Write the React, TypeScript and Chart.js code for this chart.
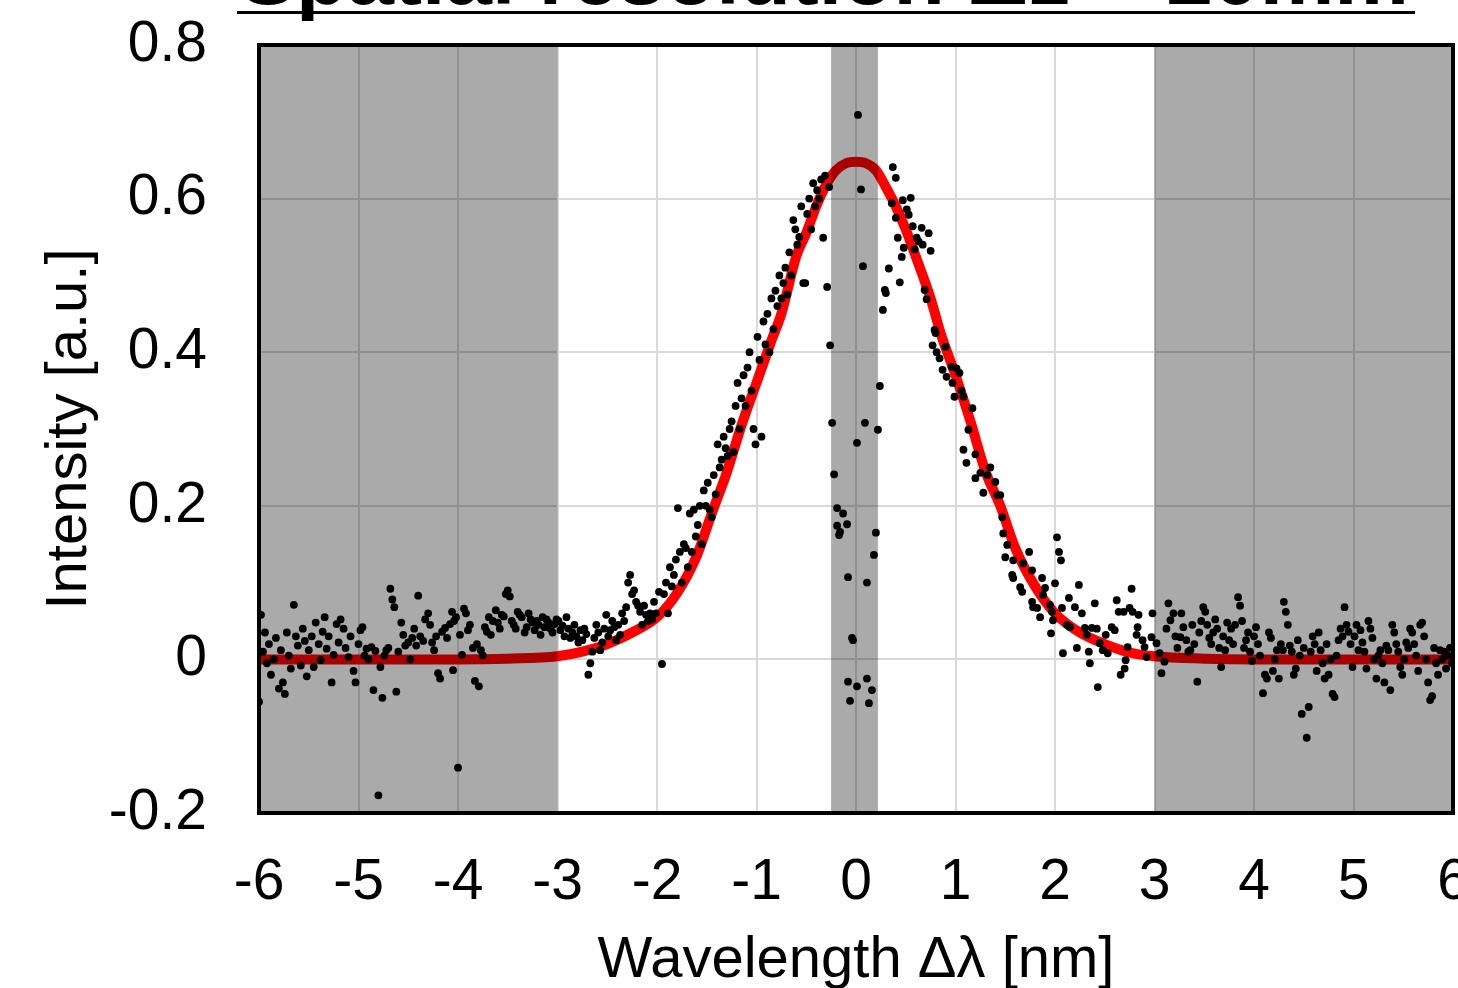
import React, { useEffect, useRef } from 'react';
import { Chart, registerables } from 'chart.js';

Chart.register(...registerables);

const FONT = '"Liberation Sans", Arial, Helvetica, sans-serif';

const titleText = 'Spatial resolution Δz ~ 20mm';
const xAxisTitle = 'Wavelength Δλ [nm]';
const yAxisTitle = 'Intensity [a.u.]';

const xTickValues = [-6, -5, -4, -3, -2, -1, 0, 1, 2, 3, 4, 5, 6];
const yTickLabels = ['-0.2', '0', '0.2', '0.4', '0.6', '0.8'];

// shaded wavelength ranges (nm)
const shadedRanges: [number, number][] = [
  [-6, -3],
  [-0.25, 0.22],
  [3, 6],
];

// fitted curve
const fitX = [-6, -4, -3.5, -3, -2.75, -2.5, -2.25, -2, -1.8, -1.6, -1.45, -1.3, -1.15, -1, -0.85, -0.75, -0.6, -0.5, -0.4, -0.3, -0.2, -0.1, 0, 0.1, 0.2, 0.3, 0.4, 0.5, 0.6, 0.75, 0.85, 1, 1.15, 1.3, 1.45, 1.6, 1.8, 2, 2.25, 2.5, 2.75, 3, 3.5, 4, 6];
const fitY = [0, 0, 0.001, 0.004, 0.01, 0.02, 0.035, 0.055, 0.086, 0.135, 0.19, 0.243, 0.305, 0.36, 0.415, 0.45, 0.525, 0.555, 0.59, 0.618, 0.637, 0.646, 0.648, 0.646, 0.637, 0.615, 0.59, 0.56, 0.525, 0.47, 0.425, 0.37, 0.31, 0.245, 0.2, 0.145, 0.095, 0.06, 0.035, 0.02, 0.009, 0.004, 0.001, 0, 0];

// measured points, left background region
const leftTailPoints: [number, number][] = [
  [-6.0, -0.055], [-5.98, 0.058], [-5.96, 0.01], [-5.94, 0.035], [-5.92, -0.005], [-5.9, 0.02], [-5.88, -0.02], [-5.85, 0.0], [-5.83, 0.028], [-5.8, -0.038],
  [-5.78, 0.012], [-5.76, -0.03], [-5.74, -0.045], [-5.72, 0.035], [-5.7, 0.005], [-5.68, -0.012], [-5.65, 0.071], [-5.63, 0.03], [-5.61, 0.018], [-5.58, -0.008],
  [-5.56, 0.04], [-5.54, 0.024], [-5.52, -0.022], [-5.5, 0.012], [-5.47, 0.03], [-5.45, -0.01], [-5.43, 0.048], [-5.4, 0.02], [-5.38, -0.001], [-5.36, 0.036],
  [-5.34, 0.055], [-5.32, 0.014], [-5.3, 0.03], [-5.27, -0.03], [-5.25, 0.006], [-5.22, 0.046], [-5.2, 0.022], [-5.18, 0.052], [-5.15, 0.04], [-5.13, 0.015],
  [-5.1, 0.003], [-5.08, 0.03], [-5.05, -0.015], [-5.03, -0.03], [-5.0, 0.02], [-4.98, 0.038], [-4.96, 0.042], [-4.94, 0.005], [-4.92, 0.014], [-4.9, 0.0],
  [-4.87, 0.016], [-4.85, -0.04], [-4.83, 0.011], [-4.8, -0.177], [-4.78, -0.01], [-4.76, -0.05], [-4.74, 0.005], [-4.72, 0.012], [-4.7, 0.015], [-4.68, 0.092],
  [-4.66, 0.078], [-4.64, 0.068], [-4.62, -0.042], [-4.6, 0.01], [-4.57, 0.048], [-4.55, 0.032], [-4.53, 0.018], [-4.5, 0.022], [-4.48, 0.0], [-4.46, 0.028],
  [-4.44, 0.04], [-4.42, 0.018], [-4.4, 0.083], [-4.38, 0.03], [-4.35, 0.024], [-4.33, 0.052], [-4.3, 0.06], [-4.28, 0.045], [-4.26, 0.022], [-4.24, 0.012],
  [-4.22, 0.03], [-4.2, -0.018], [-4.18, -0.025], [-4.16, 0.036], [-4.13, 0.041], [-4.11, 0.028], [-4.08, 0.046], [-4.06, 0.062], [-4.04, 0.05], [-4.05, -0.014],
  [-4.02, 0.055], [-4.0, -0.141], [-3.98, 0.032], [-3.96, 0.006], [-3.94, 0.066], [-3.92, 0.06], [-3.9, 0.038], [-3.88, 0.045], [-3.85, 0.015], [-3.83, -0.028],
  [-3.81, 0.02], [-3.79, -0.035], [-3.77, 0.012], [-3.75, 0.005], [-3.73, 0.042], [-3.71, 0.036], [-3.69, 0.055], [-3.67, 0.032], [-3.65, 0.05], [-3.62, 0.064],
  [-3.6, 0.048], [-3.58, 0.04], [-3.56, 0.058], [-3.54, 0.056], [-3.52, 0.085], [-3.5, 0.09], [-3.48, 0.082], [-3.46, 0.05], [-3.44, 0.045], [-3.42, 0.04],
  [-3.4, 0.062], [-3.38, 0.058], [-3.36, 0.055], [-3.33, 0.035], [-3.31, 0.042], [-3.29, 0.06], [-3.27, 0.052], [-3.25, 0.048], [-3.23, 0.038], [-3.21, 0.05],
  [-3.19, 0.045], [-3.17, 0.032], [-3.15, 0.055], [-3.13, 0.042], [-3.11, 0.052], [-3.09, 0.048], [-3.07, 0.04], [-3.05, 0.035], [-3.03, 0.046], [-3.01, 0.052],
];

// measured points, rising flank
const risePoints: [number, number][] = [
  [-2.99, 0.05], [-2.97, 0.038], [-2.95, 0.044], [-2.93, 0.03], [-2.91, 0.055], [-2.89, 0.04], [-2.87, 0.028], [-2.85, 0.035], [-2.83, 0.045], [-2.81, 0.03],
  [-2.79, 0.022], [-2.77, 0.038], [-2.75, 0.025], [-2.73, 0.04], [-2.71, 0.033], [-2.69, -0.02], [-2.67, -0.005], [-2.65, 0.01], [-2.63, 0.028], [-2.61, 0.045],
  [-2.59, 0.035], [-2.57, 0.012], [-2.55, 0.022], [-2.53, 0.04], [-2.51, 0.058], [-2.49, 0.03], [-2.47, 0.038], [-2.45, 0.05], [-2.43, 0.042], [-2.41, 0.025],
  [-2.39, 0.045], [-2.37, 0.032], [-2.35, 0.06], [-2.33, 0.05], [-2.31, 0.068], [-2.29, 0.1], [-2.27, 0.11], [-2.25, 0.085], [-2.23, 0.09], [-2.21, 0.075],
  [-2.19, 0.07], [-2.17, 0.062], [-2.15, 0.045], [-2.13, 0.07], [-2.11, 0.058], [-2.09, 0.05], [-2.07, 0.06], [-2.05, 0.052], [-2.03, 0.075], [-2.01, 0.06],
  [-1.98, 0.088], [-1.95, -0.006], [-1.93, 0.085], [-1.91, 0.1], [-1.89, 0.06], [-1.87, 0.12], [-1.85, 0.095], [-1.83, 0.11], [-1.81, 0.13], [-1.79, 0.197],
  [-1.77, 0.14], [-1.75, 0.1], [-1.73, 0.15], [-1.71, 0.145], [-1.69, 0.12], [-1.67, 0.19], [-1.65, 0.14], [-1.63, 0.195], [-1.61, 0.16], [-1.59, 0.175],
  [-1.57, 0.2], [-1.55, 0.15], [-1.53, 0.22], [-1.51, 0.2], [-1.49, 0.23], [-1.47, 0.195], [-1.45, 0.185], [-1.43, 0.24], [-1.41, 0.215], [-1.39, 0.28],
  [-1.37, 0.25], [-1.35, 0.26], [-1.33, 0.29], [-1.31, 0.275], [-1.29, 0.265], [-1.27, 0.3], [-1.25, 0.31], [-1.23, 0.27], [-1.21, 0.33], [-1.19, 0.36],
  [-1.17, 0.3], [-1.15, 0.34], [-1.13, 0.37], [-1.11, 0.33], [-1.09, 0.38], [-1.07, 0.4], [-1.05, 0.35], [-1.03, 0.3], [-1.01, 0.28], [-0.99, 0.42],
  [-0.97, 0.39], [-0.95, 0.29], [-0.93, 0.44], [-0.91, 0.41], [-0.89, 0.45], [-0.87, 0.4], [-0.85, 0.47], [-0.83, 0.43], [-0.81, 0.48], [-0.79, 0.46],
  [-0.77, 0.5], [-0.75, 0.47], [-0.73, 0.49], [-0.71, 0.51], [-0.69, 0.475], [-0.67, 0.53], [-0.65, 0.5], [-0.63, 0.572], [-0.61, 0.56], [-0.59, 0.54],
  [-0.57, 0.55], [-0.55, 0.59], [-0.53, 0.49], [-0.51, 0.49], [-0.49, 0.58], [-0.47, 0.6], [-0.45, 0.56], [-0.43, 0.62], [-0.41, 0.59], [-0.39, 0.611],
  [-0.37, 0.6], [-0.35, 0.625], [-0.33, 0.549], [-0.31, 0.63], [-0.29, 0.485], [-0.27, 0.615],
];

// measured points inside the central band
const centerPoints: [number, number][] = [
  [-0.26, 0.409], [-0.24, 0.308], [-0.22, 0.241], [-0.19, 0.197], [-0.13, 0.19], [-0.19, 0.174], [-0.09, 0.176], [-0.16, 0.166], [-0.17, 0.162], [-0.08, 0.107],
  [-0.04, 0.028], [-0.03, 0.025], [-0.08, -0.029], [-0.06, -0.054], [0.01, -0.035], [0.11, -0.025], [0.16, -0.04], [0.13, -0.057], [0.01, 0.282], [0.09, 0.308],
  [0.2, 0.165], [0.18, 0.136], [0.11, 0.1], [0.02, 0.709], [0.05, 0.612], [0.07, 0.512], [0.24, 0.356],
];

// measured points, falling flank
const fallPoints: [number, number][] = [
  [0.22, 0.299], [0.27, 0.455], [0.29, 0.481], [0.3, 0.477], [0.33, 0.509], [0.36, 0.594], [0.37, 0.641], [0.4, 0.627], [0.4, 0.575], [0.42, 0.549],
  [0.44, 0.491], [0.46, 0.524], [0.47, 0.598], [0.48, 0.536], [0.51, 0.586], [0.53, 0.579], [0.55, 0.601], [0.57, 0.564], [0.59, 0.534], [0.61, 0.549],
  [0.63, 0.544], [0.66, 0.562], [0.67, 0.54], [0.69, 0.481], [0.71, 0.469], [0.73, 0.555], [0.75, 0.532], [0.77, 0.409], [0.79, 0.429], [0.8, 0.425],
  [0.81, 0.4], [0.84, 0.392], [0.87, 0.377], [0.9, 0.407], [0.91, 0.368], [0.96, 0.381], [0.97, 0.36], [0.99, 0.342], [1.01, 0.379], [1.04, 0.373],
  [1.06, 0.35], [1.08, 0.342], [1.08, 0.273], [1.11, 0.256], [1.13, 0.299], [1.17, 0.327], [1.2, 0.267], [1.2, 0.236], [1.25, 0.243], [1.28, 0.217],
  [1.32, 0.24], [1.35, 0.25], [1.4, 0.231], [1.42, 0.214], [1.45, 0.214], [1.47, 0.185], [1.48, 0.164], [1.5, 0.133], [1.52, 0.149], [1.57, 0.11],
  [1.58, 0.129], [1.58, 0.106], [1.65, 0.094], [1.67, 0.088], [1.68, 0.125], [1.74, 0.14], [1.77, 0.116], [1.77, 0.075], [1.78, 0.068], [1.82, 0.067],
  [1.85, 0.055], [1.87, 0.106], [1.88, 0.084], [1.9, 0.093], [1.95, 0.071], [1.96, 0.034], [1.97, 0.062], [1.98, 0.051], [2.0, 0.099], [2.02, 0.159],
  [2.04, 0.14], [2.06, 0.129], [2.07, 0.067], [2.08, 0.008], [2.12, 0.045], [2.14, 0.08], [2.15, 0.042], [2.2, 0.068], [2.22, 0.015], [2.24, 0.097],
  [2.27, 0.06], [2.3, 0.041], [2.32, 0.032], [2.34, 0.01], [2.35, -0.005], [2.37, 0.041], [2.4, 0.073], [2.42, 0.04], [2.43, -0.036], [2.45, 0.021],
  [2.48, 0.012], [2.51, 0.032], [2.53, 0.008], [2.57, 0.042], [2.6, 0.038], [2.62, 0.077], [2.64, 0.062], [2.66, -0.02], [2.69, 0.062], [2.7, -0.012],
  [2.71, -0.001], [2.73, 0.016], [2.75, 0.067], [2.77, 0.092], [2.78, 0.062], [2.82, 0.032], [2.83, 0.042], [2.84, 0.058], [2.88, 0.025], [2.9, 0.016],
  [2.92, 0.003], [2.97, 0.029], [2.98, 0.06], [3.02, 0.021], [3.05, 0.008], [3.07, -0.018], [3.1, -0.003],
];

// measured points, right background region
const rightTailPoints: [number, number][] = [
  [3.12, 0.04], [3.14, 0.073], [3.16, 0.051], [3.19, 0.06], [3.21, 0.03], [3.23, 0.015], [3.26, 0.029], [3.27, 0.06], [3.29, 0.042], [3.32, 0.025],
  [3.34, 0.01], [3.36, 0.012], [3.38, 0.045], [3.4, 0.02], [3.43, -0.029], [3.45, 0.035], [3.47, 0.05], [3.49, 0.068], [3.51, 0.062], [3.53, 0.045],
  [3.55, 0.028], [3.57, 0.02], [3.59, 0.035], [3.61, 0.052], [3.63, 0.04], [3.65, 0.015], [3.67, -0.01], [3.69, 0.03], [3.71, 0.012], [3.73, 0.048],
  [3.75, 0.025], [3.77, 0.04], [3.79, 0.02], [3.81, 0.045], [3.84, 0.081], [3.86, 0.07], [3.88, 0.05], [3.9, 0.015], [3.92, 0.025], [3.94, 0.035],
  [3.96, 0.01], [3.98, -0.002], [4.0, 0.03], [4.02, 0.042], [4.04, 0.02], [4.06, 0.005], [4.09, -0.044], [4.11, -0.02], [4.13, -0.025], [4.15, 0.035],
  [4.17, 0.028], [4.19, -0.015], [4.21, 0.0], [4.23, 0.012], [4.25, -0.025], [4.27, 0.02], [4.29, 0.012], [4.3, 0.075], [4.32, 0.062], [4.34, 0.045],
  [4.36, 0.018], [4.38, 0.01], [4.4, -0.02], [4.42, -0.012], [4.44, 0.025], [4.46, 0.005], [4.48, -0.071], [4.5, 0.015], [4.53, -0.102], [4.55, -0.062],
  [4.57, 0.01], [4.59, 0.03], [4.61, 0.02], [4.63, -0.015], [4.65, 0.035], [4.67, 0.012], [4.69, -0.005], [4.71, -0.025], [4.73, 0.02], [4.75, -0.02],
  [4.77, 0.0], [4.79, -0.045], [4.81, -0.049], [4.83, 0.005], [4.85, 0.025], [4.87, 0.04], [4.89, 0.03], [4.91, 0.068], [4.93, 0.045], [4.95, 0.036],
  [4.97, 0.02], [4.99, -0.01], [5.01, 0.03], [5.03, 0.045], [5.05, 0.012], [5.07, 0.038], [5.09, 0.022], [5.11, 0.01], [5.13, -0.012], [5.15, 0.05],
  [5.17, 0.04], [5.19, 0.028], [5.21, 0.0], [5.23, -0.025], [5.25, 0.005], [5.27, 0.012], [5.29, -0.005], [5.31, -0.03], [5.33, 0.018], [5.35, 0.012],
  [5.37, -0.04], [5.39, 0.045], [5.41, 0.035], [5.43, 0.02], [5.45, 0.01], [5.47, -0.01], [5.49, -0.02], [5.51, 0.0], [5.53, 0.022], [5.55, 0.015],
  [5.57, 0.04], [5.59, 0.035], [5.61, 0.02], [5.63, 0.005], [5.65, -0.015], [5.67, 0.045], [5.69, 0.048], [5.71, 0.03], [5.73, 0.0], [5.75, -0.03],
  [5.77, -0.053], [5.79, -0.048], [5.81, 0.015], [5.83, -0.005], [5.85, -0.02], [5.87, 0.012], [5.89, 0.0], [5.91, 0.01], [5.93, -0.012], [5.95, 0.005],
  [5.97, 0.015], [5.99, -0.005],
];

export default function App() {
  const canvasRef = useRef<HTMLCanvasElement | null>(null);

  useEffect(() => {
    const canvas = canvasRef.current;
    if (!canvas) return;

    const measured = [...leftTailPoints, ...risePoints, ...centerPoints, ...fallPoints, ...rightTailPoints].map(([x, y]) => ({ x, y }));
    const fit = fitX.map((x, i) => ({ x, y: fitY[i] }));

    const overlayPlugin = {
      id: 'bandsAndFrame',
      afterDatasetsDraw(chart: any) {
        const { ctx, chartArea, scales } = chart;
        const xs = scales.x;
        ctx.save();
        ctx.fillStyle = 'rgba(0,0,0,0.335)';
        for (const [a, b] of shadedRanges) {
          const x1 = xs.getPixelForValue(a);
          const x2 = xs.getPixelForValue(b);
          ctx.fillRect(x1, chartArea.top, x2 - x1, chartArea.bottom - chartArea.top);
        }
        ctx.lineWidth = 4;
        ctx.strokeStyle = '#000';
        ctx.strokeRect(chartArea.left, chartArea.top, chartArea.right - chartArea.left, chartArea.bottom - chartArea.top);
        ctx.restore();
      },
    };

    const zeroPadding = (scale: any) => {
      scale.paddingTop = 0;
      scale.paddingBottom = 0;
      scale.paddingLeft = 0;
      scale.paddingRight = 0;
    };

    const chart = new Chart(canvas, {
      type: 'scatter',
      data: {
        datasets: [
          {
            label: 'measured',
            data: measured,
            pointRadius: 3.9,
            pointBackgroundColor: '#000',
            pointBorderWidth: 0,
            showLine: false,
          },
          {
            label: 'fit',
            data: fit,
            showLine: true,
            pointRadius: 0,
            borderColor: '#ff0000',
            borderWidth: 10,
            cubicInterpolationMode: 'monotone',
            borderCapStyle: 'round',
            borderJoinStyle: 'round',
          },
        ],
      },
      options: {
        responsive: false,
        animation: false,
        devicePixelRatio: 1,
        layout: { padding: { top: 45, right: 27, bottom: 0, left: 0 } },
        plugins: { legend: { display: false }, tooltip: { enabled: false } },
        scales: {
          x: {
            type: 'linear',
            min: -6,
            max: 6,
            afterBuildTicks: (scale: any) => {
              scale.ticks = xTickValues.map((v) => ({ value: v }));
            },
            afterFit: (scale: any) => {
              scale.height = 187;
              zeroPadding(scale);
            },
            grid: { color: '#d9d9d9', lineWidth: 2, drawTicks: false },
            border: { display: false },
            ticks: {
              autoSkip: false,
              maxRotation: 0,
              padding: 36,
              color: '#000',
              font: { family: FONT, size: 57 },
              callback: (v: any) => String(v),
            },
            title: {
              display: true,
              text: xAxisTitle,
              color: '#000',
              font: { family: FONT, size: 58 },
              padding: { top: 0, bottom: 4 },
            },
          },
          y: {
            type: 'linear',
            min: -0.2,
            max: 0.8,
            afterBuildTicks: (scale: any) => {
              scale.ticks = yTickLabels.map((t) => ({ value: parseFloat(t) }));
            },
            afterFit: (scale: any) => {
              scale.width = 259;
              zeroPadding(scale);
            },
            grid: { color: '#d9d9d9', lineWidth: 2, drawTicks: false },
            border: { display: false },
            ticks: {
              padding: 52,
              color: '#000',
              font: { family: FONT, size: 57 },
              callback: (_v: any, i: number) => yTickLabels[i],
            },
            title: {
              display: true,
              text: yAxisTitle,
              color: '#000',
              font: { family: FONT, size: 58 },
              padding: { top: 35, bottom: 0 },
            },
          },
        },
      },
      plugins: [overlayPlugin],
    } as any);

    return () => chart.destroy();
  }, []);

  return (
    <div style={{ position: 'fixed', left: 0, top: 0, width: 1458, height: 988, overflow: 'hidden', background: '#fff' }}>
      <canvas ref={canvasRef} width={1480} height={1000} style={{ position: 'absolute', left: 0, top: 0, width: 1480, height: 1000 }} />
      <div
        style={{
          position: 'absolute',
          left: 240,
          top: -67,
          fontFamily: FONT,
          fontWeight: 'bold',
          fontSize: 84,
          lineHeight: '85px',
          whiteSpace: 'nowrap',
          color: '#000',
        }}
      >
        {titleText}
      </div>
      <div style={{ position: 'absolute', left: 237, top: 11, width: 1178, height: 3, background: '#000' }} />
    </div>
  );
}
